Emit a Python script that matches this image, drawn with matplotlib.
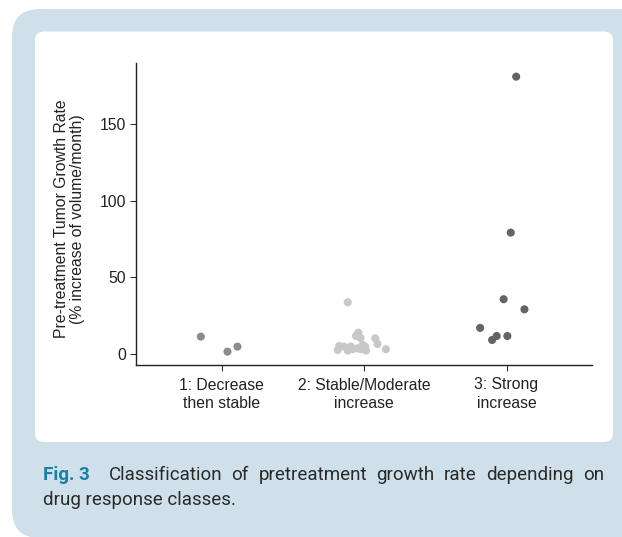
import matplotlib
matplotlib.use('Agg')
import matplotlib.pyplot as plt
from matplotlib.patches import FancyBboxPatch
from matplotlib import font_manager

# ---------------- data ----------------
categories = ["1: Decrease\nthen stable", "2: Stable/Moderate\nincrease", "3: Strong\nincrease"]
cat1_x = [0.855, 1.042, 1.112]
cat1_y = [11.3, 1.5, 4.8]
cat2_x = [1.886, 1.960, 1.944, 1.975, 2.079, 2.095, 2.154, 1.827, 1.816,
          1.862, 1.886, 1.921, 1.956, 1.979, 2.009, 2.014, 1.991, 1.909]
cat2_y = [33.7, 13.9, 11.7, 10.4, 10.2, 6.5, 3.1, 5.2, 2.6,
          4.8, 2.2, 3.1, 3.7, 3.1, 4.8, 2.2, 5.9, 4.8]
cat3_x = [3.068, 3.030, 2.980, 3.126, 2.815, 2.899, 2.931, 3.006]
cat3_y = [180.8, 79.1, 35.7, 29.1, 17.0, 9.1, 11.7, 11.7]
yticks = [0, 50, 100, 150]
ylabel = "Pre-treatment Tumor Growth Rate\n(% increase of volume/month)"
caption_tag = "Fig. 3"
caption_line1 = "Classification of pretreatment growth rate depending on"
caption_line2 = "drug response classes."

W, H = 622, 537
DPI = 100
fig = plt.figure(figsize=(W / DPI, H / DPI), dpi=DPI)
fig.patch.set_facecolor('white')

def px_box(x0, y0, x1, y1, r, color, z):
    # pixel coords, origin top-left
    p = FancyBboxPatch((x0 / W, 1 - y1 / H), (x1 - x0) / W, (y1 - y0) / H,
                       boxstyle=f"round,pad=0,rounding_size={r / W}",
                       transform=fig.transFigure, facecolor=color,
                       edgecolor='none', zorder=z, mutation_aspect=W / H)
    fig.patches.append(p)

px_box(12, 9, 660, 538, 28, '#cfe0ea', -20)
px_box(35, 31.5, 613, 442, 9, 'white', -10)

ax_font = 'Liberation Sans'
fs = 11.3
ax = fig.add_axes([136 / W, 1 - 365 / H, (592 - 136) / W, (365 - 63) / H])
ax.set_facecolor('none')

ms = 34
ax.scatter(cat1_x, cat1_y, s=ms, color='#8c8c8c', edgecolors='none', zorder=3)
ax.scatter(cat2_x, cat2_y, s=ms, color='#c8c8c8', edgecolors='none', zorder=3)
ax.scatter(cat3_x, cat3_y, s=ms, color='#646464', edgecolors='none', zorder=3)

ax.set_xlim(0.4, 3.6)
ax.set_ylim(-7.2, 189.7)
ax.set_xticks([1, 2, 3])
ax.set_xticklabels(categories, fontfamily=ax_font, fontsize=fs, color='#222222',
                   linespacing=1.3)
ax.set_yticks(yticks)
ax.set_yticklabels([str(v) for v in yticks], fontfamily=ax_font, fontsize=fs,
                   color='#222222')
ax.tick_params(axis='both', length=4, width=0.8, color='#333333', pad=3)
ax.tick_params(axis='x', pad=5)
for s in ['top', 'right']:
    ax.spines[s].set_visible(False)
for s in ['left', 'bottom']:
    ax.spines[s].set_linewidth(1.0)
    ax.spines[s].set_color('#222222')
ax.set_ylabel(ylabel, fontfamily=ax_font, fontsize=fs, color='#222222',
              linespacing=1.05)
ax.yaxis.set_label_coords(-0.112, 0.483)

# ---------------- caption ----------------
names = {f.name for f in font_manager.fontManager.ttflist}
cap_family = 'Roboto' if 'Roboto' in names else 'Liberation Sans'
cap_size = 13.5
fig.canvas.draw()
renderer = fig.canvas.get_renderer()

def width_px(t):
    return t.get_window_extent(renderer).width

x_left, x_right = 43, 604
base1, base2 = 480, 505
kw = dict(fontfamily=cap_family, fontsize=cap_size, va='baseline')
tag = fig.text(x_left / W, 1 - base1 / H, caption_tag, fontweight='bold',
               color='#1b7fa8', **kw)
words = caption_line1.split()
wts = [fig.text(0, 1 - base1 / H, w, color='#2a2a2a', **kw) for w in words]
fig.canvas.draw()
tw = width_px(tag)
ws = [width_px(t) for t in wts]
free = (x_right - x_left) - tw - sum(ws)
tag_gap_ratio = 2.0
ngaps = len(words) - 1 + tag_gap_ratio
g = max(free / ngaps, 1.0)
x = x_left + tw + tag_gap_ratio * g
for t, w in zip(wts, ws):
    t.set_x(x / W)
    x += w + g
fig.text(x_left / W, 1 - base2 / H, caption_line2, color='#2a2a2a', **kw)

fig.savefig('out.png', dpi=DPI, facecolor='white')
